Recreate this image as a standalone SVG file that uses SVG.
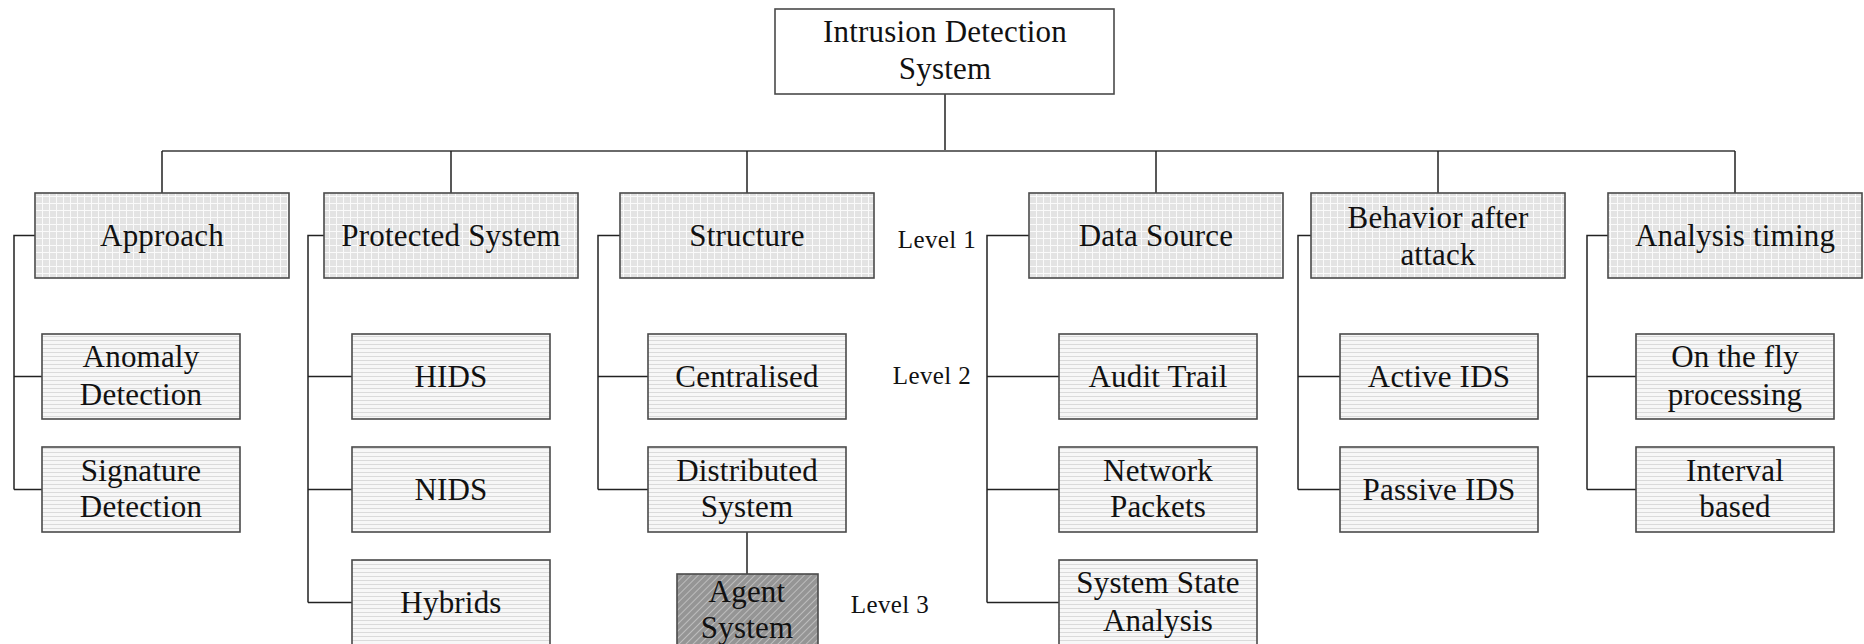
<svg xmlns="http://www.w3.org/2000/svg" width="1864" height="644" viewBox="0 0 1864 644">
<style>
.box{stroke:#4a4a4a;stroke-width:1.6}
.l1{fill:url(#grid)}
.l2{fill:url(#hstripe)}
.l3{fill:url(#diag)}
.top{fill:#fff}
text{font-family:"Liberation Serif","Times New Roman",serif;fill:#111;text-anchor:middle}
.t{font-size:31px;letter-spacing:0.2px}
.lv{font-size:25px;letter-spacing:0.4px}
.conn path{fill:none;stroke:#222;stroke-width:1.5}
.conn .bus{stroke:#6a6a6a;stroke-width:2}
</style>
<defs>
<pattern id="grid" width="7" height="7" patternUnits="userSpaceOnUse">
<rect width="7" height="7" fill="#e3e3e3"/>
<path d="M0 0.5H7M0.5 0V7" stroke="#fafafa" stroke-width="1"/>
</pattern>
<pattern id="hstripe" width="4" height="4" patternUnits="userSpaceOnUse">
<rect width="4" height="4" fill="#f7f7f7"/>
<path d="M0 0.5H4" stroke="#dadada" stroke-width="1"/>
</pattern>
<pattern id="diag" width="5" height="5" patternUnits="userSpaceOnUse" patternTransform="rotate(45)">
<rect width="5" height="5" fill="#959595"/>
<path d="M0.5 0V5" stroke="#bdbdbd" stroke-width="1"/>
</pattern>
</defs>

<g id="connectors" class="conn">
<path d="M945 94V151"/>
<path class="bus" d="M162 151H1735"/>
<path d="M162 151V193M451 151V193M747 151V193M1156 151V193M1438 151V193M1735 151V193"/>
<path d="M35 235.5H14V489.5M14 376.5H42M14 489.5H42"/>
<path d="M324 235.5H308V602.5M308 376.5H352M308 489.5H352M308 602.5H352"/>
<path d="M620 235.5H598V489.5M598 376.5H648M598 489.5H648"/>
<path d="M747 532V574"/>
<path d="M1029 235.5H987V602.5M987 376.5H1059M987 489.5H1059M987 602.5H1059"/>
<path d="M1311 235.5H1298V489.5M1298 376.5H1340M1298 489.5H1340"/>
<path d="M1608 235.5H1587V489.5M1587 376.5H1636M1587 489.5H1636"/>
</g>

<g id="ids">
<rect class="box top" x="775" y="9" width="339" height="85"/>
<text class="t" x="945" y="42">Intrusion Detection</text>
<text class="t" x="945" y="79">System</text>
</g>

<g id="approach"><rect class="box l1" x="35" y="193" width="254" height="85"/><text class="t" x="162" y="246">Approach</text></g>
<g id="protected"><rect class="box l1" x="324" y="193" width="254" height="85"/><text class="t" x="451" y="246">Protected System</text></g>
<g id="structure"><rect class="box l1" x="620" y="193" width="254" height="85"/><text class="t" x="747" y="246">Structure</text></g>
<g id="datasource"><rect class="box l1" x="1029" y="193" width="254" height="85"/><text class="t" x="1156" y="246">Data Source</text></g>
<g id="behavior"><rect class="box l1" x="1311" y="193" width="254" height="85"/><text class="t" x="1438" y="228">Behavior after</text><text class="t" x="1438" y="265">attack</text></g>
<g id="timing"><rect class="box l1" x="1608" y="193" width="254" height="85"/><text class="t" x="1735" y="246">Analysis timing</text></g>

<g id="anomaly"><rect class="box l2" x="42" y="334" width="198" height="85"/><text class="t" x="141" y="367">Anomaly</text><text class="t" x="141" y="405">Detection</text></g>
<g id="signature"><rect class="box l2" x="42" y="447" width="198" height="85"/><text class="t" x="141" y="481">Signature</text><text class="t" x="141" y="517">Detection</text></g>

<g id="hids"><rect class="box l2" x="352" y="334" width="198" height="85"/><text class="t" x="451" y="387">HIDS</text></g>
<g id="nids"><rect class="box l2" x="352" y="447" width="198" height="85"/><text class="t" x="451" y="500">NIDS</text></g>
<g id="hybrids"><rect class="box l2" x="352" y="560" width="198" height="85"/><text class="t" x="451" y="613">Hybrids</text></g>

<g id="centralised"><rect class="box l2" x="648" y="334" width="198" height="85"/><text class="t" x="747" y="387">Centralised</text></g>
<g id="distributed"><rect class="box l2" x="648" y="447" width="198" height="85"/><text class="t" x="747" y="481">Distributed</text><text class="t" x="747" y="517">System</text></g>
<g id="agent"><rect class="box l3" x="677" y="574" width="141" height="85"/><text class="t" x="747" y="602">Agent</text><text class="t" x="747" y="638">System</text></g>

<g id="audit"><rect class="box l2" x="1059" y="334" width="198" height="85"/><text class="t" x="1158" y="387">Audit Trail</text></g>
<g id="network"><rect class="box l2" x="1059" y="447" width="198" height="85"/><text class="t" x="1158" y="481">Network</text><text class="t" x="1158" y="517">Packets</text></g>
<g id="state"><rect class="box l2" x="1059" y="560" width="198" height="85"/><text class="t" x="1158" y="593">System State</text><text class="t" x="1158" y="631">Analysis</text></g>

<g id="active"><rect class="box l2" x="1340" y="334" width="198" height="85"/><text class="t" x="1439" y="387">Active IDS</text></g>
<g id="passive"><rect class="box l2" x="1340" y="447" width="198" height="85"/><text class="t" x="1439" y="500">Passive IDS</text></g>

<g id="onthefly"><rect class="box l2" x="1636" y="334" width="198" height="85"/><text class="t" x="1735" y="367">On the fly</text><text class="t" x="1735" y="405">processing</text></g>
<g id="interval"><rect class="box l2" x="1636" y="447" width="198" height="85"/><text class="t" x="1735" y="481">Interval</text><text class="t" x="1735" y="517">based</text></g>

<g id="levels">
<text class="lv" x="937" y="248">Level 1</text>
<text class="lv" x="932" y="384">Level 2</text>
<text class="lv" x="890" y="613">Level 3</text>
</g>
</svg>
